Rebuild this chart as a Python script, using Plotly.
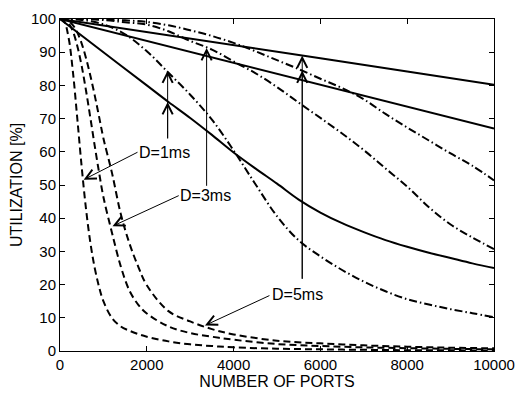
import plotly.graph_objects as go

# ---------------- data ----------------
x_dash = [0, 100, 200, 300, 400, 500, 600, 700, 800, 900, 1000, 1200, 1400, 1600,
          1800, 2000, 2500, 3000, 3500, 4000, 5000, 6000, 7000, 8000, 9000, 10000]
dash_1ms = [100, 99.1, 94.2, 83.8, 69.8, 55.4, 42.7, 32.6, 25.0, 19.3, 15.0, 9.9, 7.4, 6.1,
            5.1, 4.3, 2.9, 2.0, 1.5, 1.1, 0.7, 0.5, 0.35, 0.25, 0.2, 0.15]
dash_3ms = [100, 99.8, 98.7, 96.2, 91.8, 85.8, 78.4, 70.2, 61.8, 53.8, 46.4, 35.5, 25.5, 18.2,
            14.0, 11.3, 7.4, 5.4, 4.3, 3.4, 2.1, 1.5, 1.1, 0.85, 0.65, 0.5]
dash_5ms = [100, 99.9, 99.4, 98.1, 95.9, 92.6, 88.2, 82.9, 77.0, 70.6, 64.1, 53.5, 41.3, 32.4,
            25.5, 19.8, 12.0, 8.9, 6.6, 5.0, 3.1, 2.3, 1.7, 1.3, 1.0, 0.8]

x_dd = [0, 500, 1000, 1500, 2000, 2500, 3000, 3500, 4000, 4500, 5000, 5500, 6000,
        6500, 7000, 7500, 8000, 8500, 9000, 9500, 10000]
dd_1ms = [100, 99.7, 98.4, 95.4, 90.3, 83.8, 77.2, 69.7, 60.4, 50.3, 40.6, 33.3, 28.5,
          24.4, 20.9, 18.0, 15.6, 14.0, 12.6, 11.4, 10.2]
dd_3ms = [100, 100, 99.7, 99.0, 98.3, 96.3, 93.4, 90.8, 87.2, 83.7, 79.5, 74.8, 70.2,
          65.5, 60.5, 55.0, 49.5, 43.3, 38.1, 34.2, 30.7]
dd_5ms = [100, 100, 99.9, 99.6, 99.1, 98.1, 96.6, 94.9, 92.8, 90.3, 87.6, 84.9, 82.0,
          79.2, 75.8, 71.4, 67.3, 63.4, 59.5, 55.8, 51.4]

x_sol = [0, 1000, 2000, 2500, 3000, 3500, 4000, 4500, 5000, 5500, 6000, 6500, 7000,
         7500, 8000, 8500, 9000, 9500, 10000]
sol_1ms = [100, 90, 80, 75, 70.2, 65.1, 59.8, 55.0, 50.4, 45.6, 41.7, 38.5, 35.8,
           33.4, 31.4, 29.6, 28.0, 26.4, 25.0]
x_lin = [0, 2000, 4000, 6000, 8000, 10000]
sol_3ms = [100, 93.4, 86.9, 80.3, 73.6, 67.0]
sol_5ms = [100, 96.1, 92.3, 88.2, 84.2, 80.2]

x_ticks = [0, 2000, 4000, 6000, 8000, 10000]
y_ticks = [0, 10, 20, 30, 40, 50, 60, 70, 80, 90, 100]

labels = ["D=1ms", "D=3ms", "D=5ms"]
# label centres (data coords)
label_x = [2400, 3360, 5470]
label_y = [59.9, 46.8, 16.9]
# arrows: (tail_x, tail_y, tip_x, tip_y)
arrows = [
    (1820, 60.1, 545, 51.6),
    (2480, 63.6, 2480, 84.5),
    (2480, 63.6, 2480, 75.0),
    (2770, 47.0, 1210, 37.6),
    (3378, 49.3, 3378, 91.3),
    (5581, 21.3, 5581, 89.0),
    (5581, 21.3, 5581, 84.5),
    (4860, 16.9, 3340, 7.7),
]

FONT = "Liberation Sans, Arial, Helvetica, sans-serif"

fig = go.Figure()
line_w = 2
DASH = "7px,4px"
DASHDOT = "8px,3px,1.5px,3px"

for y in (dash_1ms, dash_3ms, dash_5ms):
    fig.add_trace(go.Scatter(x=x_dash, y=y, mode="lines", line_shape="spline",
                             line=dict(color="black", width=line_w, dash=DASH),
                             showlegend=False, hoverinfo="skip"))
for y in (dd_1ms, dd_3ms, dd_5ms):
    fig.add_trace(go.Scatter(x=x_dd, y=y, mode="lines", line_shape="spline",
                             line=dict(color="black", width=line_w, dash=DASHDOT),
                             showlegend=False, hoverinfo="skip"))
fig.add_trace(go.Scatter(x=x_sol, y=sol_1ms, mode="lines", line_shape="spline",
                         line=dict(color="black", width=line_w),
                         showlegend=False, hoverinfo="skip"))
for y in (sol_3ms, sol_5ms):
    fig.add_trace(go.Scatter(x=x_lin, y=y, mode="lines",
                             line=dict(color="black", width=line_w),
                             showlegend=False, hoverinfo="skip"))

annotations = []
for t, lx, ly in zip(labels, label_x, label_y):
    annotations.append(dict(x=lx, y=ly, xref="x", yref="y", text=t, showarrow=False,
                            font=dict(family=FONT, size=16, color="black"),
                            xanchor="center", yanchor="middle"))
for (tx, ty, hx, hy) in arrows:
    annotations.append(dict(x=hx, y=hy, ax=tx, ay=ty, xref="x", yref="y",
                            axref="x", ayref="y", text="", showarrow=True,
                            arrowhead=5, arrowsize=2, arrowwidth=1, arrowcolor="black"))

axis_common = dict(showline=True, linecolor="black", linewidth=1, mirror="ticks",
                   ticks="inside", ticklen=5, tickcolor="black", showgrid=False,
                   zeroline=False, tickfont=dict(family=FONT, size=15, color="black"))

fig.update_layout(
    width=525, height=396,
    margin=dict(l=60, r=26, t=10, b=43),
    paper_bgcolor="white", plot_bgcolor="white",
    annotations=annotations,
    xaxis=dict(range=[0, 10000], tickvals=x_ticks, ticktext=[str(v) for v in x_ticks],
               title=dict(text="NUMBER OF PORTS", font=dict(family=FONT, size=16, color="black"),
                          standoff=2),
               **axis_common),
    yaxis=dict(range=[0, 100], tickvals=y_ticks, ticktext=[str(v) for v in y_ticks],
               title=dict(text="UTILIZATION [%]", font=dict(family=FONT, size=16, color="black"),
                          standoff=4),
               **axis_common),
)

fig.write_html("out.html")
